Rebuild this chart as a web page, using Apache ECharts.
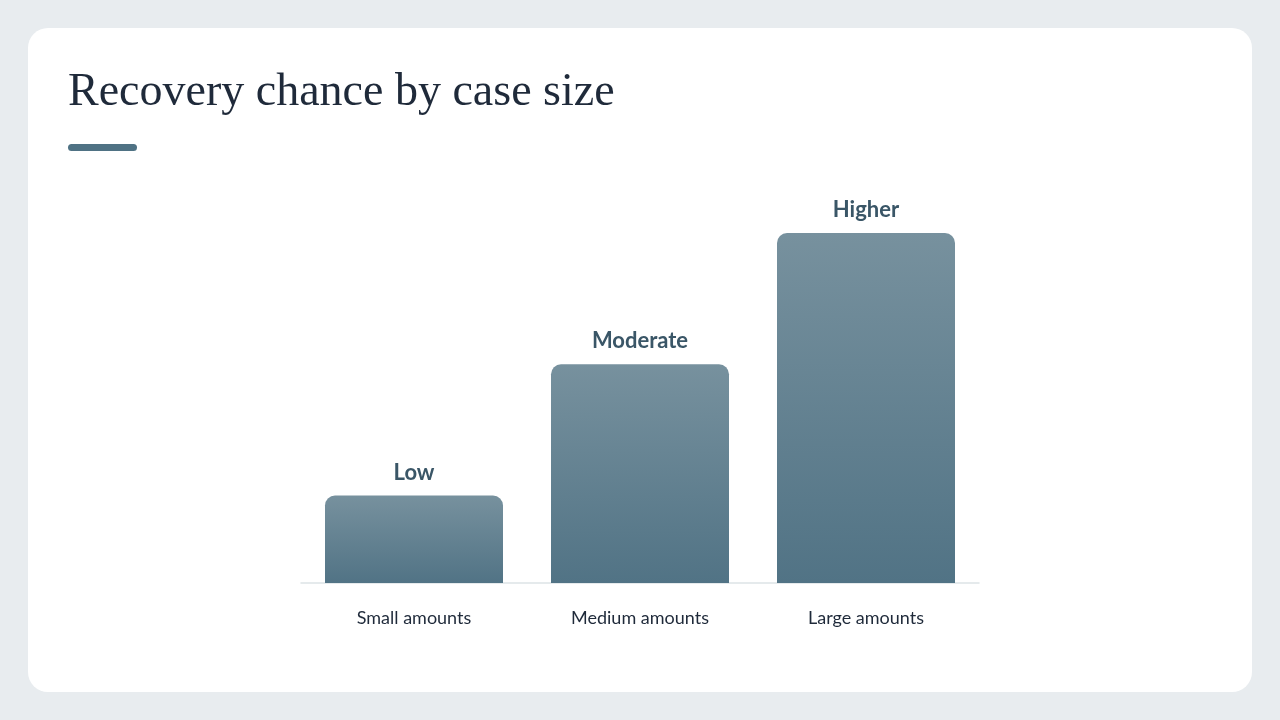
<!DOCTYPE html>
<html><head><meta charset="utf-8">
<script src="https://cdn.jsdelivr.net/npm/echarts@6/dist/echarts.min.js"></script>
<style>html,body{margin:0;padding:0;background:#e8ecef}#c{width:1280px;height:720px}</style>
</head><body><div id="c"></div>
<script>
const categories = ['Small amounts', 'Medium amounts', 'Large amounts'];
const values = [1, 2.5, 4];
const valueLabels = ['Low', 'Moderate', 'Higher'];

const chart = echarts.init(document.getElementById('c'));
chart.setOption({
  backgroundColor: '#e8ecef',
  graphic: [
    { type: 'rect', z: -10, shape: { x: 28, y: 28, width: 1224, height: 664, r: 20 }, style: { fill: '#ffffff' } },
    { type: 'text', left: 68, top: 70, style: { text: 'Recovery chance by case size', font: '46px "Liberation Serif", serif', fill: '#1f2a3a' } },
    { type: 'rect', shape: { x: 68, y: 144, width: 69, height: 7, r: 3.5 }, style: { fill: '#4f7284' } }
  ],
  grid: { left: 301, right: 301, top: 233, bottom: 137 },
  xAxis: {
    type: 'category', data: categories,
    axisLine: { lineStyle: { color: '#dde3e6', width: 1.5 } },
    axisTick: { show: false },
    axisLabel: { margin: 26, color: '#1f2a3a', fontSize: 18, fontFamily: 'Lato' }
  },
  yAxis: { type: 'value', min: 0, max: 4, show: false, splitLine: { show: false } },
  series: [{
    type: 'bar', barWidth: 178,
    data: values,
    itemStyle: {
      borderRadius: [10, 10, 0, 0],
      color: new echarts.graphic.LinearGradient(0, 0, 0, 1, [
        { offset: 0, color: '#77919e' }, { offset: 1, color: '#517385' }
      ])
    },
    label: {
      show: true, position: 'top', distance: 12,
      formatter: p => valueLabels[p.dataIndex],
      color: '#3a5667', fontSize: 22, fontWeight: 'bold', fontFamily: 'Lato'
    }
  }]
});
</script></body></html>
